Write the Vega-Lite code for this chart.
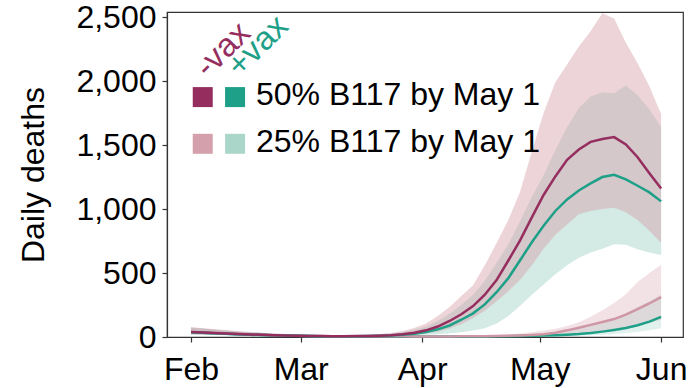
{
  "$schema": "https://vega.github.io/schema/vega-lite/v6.json",
  "width": 516,
  "height": 325,
  "autosize": {"type": "none"},
  "padding": {"left": 167, "top": 12, "right": 11, "bottom": 51},
  "config": {
    "font": "Liberation Sans",
    "view": {"stroke": "#333333", "strokeWidth": 1.2},
    "axis": {"labelFont": "Liberation Sans", "labelFontSize": 32, "labelColor": "#000000", "tickColor": "#333333", "domainColor": "#333333", "tickSize": 5, "tickWidth": 1.2, "domainWidth": 1.2, "grid": false, "titleFont": "Liberation Sans", "titleFontSize": 32, "titleFontWeight": "normal", "titleColor": "#000000"},
    "axisX": {"labelPadding": 12, "labelFlush": false, "labelOverlap": false},
    "axisY": {"labelPadding": 6, "titlePadding": 25}
  },
  "datasets": {"runs": [
    {"date": "2021/02/01", "series": "-vax 50%", "mid": 40, "lo": 22, "hi": 76},
    {"date": "2021/02/04", "series": "-vax 50%", "mid": 36, "lo": 20, "hi": 68},
    {"date": "2021/02/07", "series": "-vax 50%", "mid": 31, "lo": 17, "hi": 60},
    {"date": "2021/02/10", "series": "-vax 50%", "mid": 27, "lo": 15, "hi": 52},
    {"date": "2021/02/13", "series": "-vax 50%", "mid": 23, "lo": 13, "hi": 45},
    {"date": "2021/02/16", "series": "-vax 50%", "mid": 20, "lo": 11, "hi": 39},
    {"date": "2021/02/19", "series": "-vax 50%", "mid": 17, "lo": 9, "hi": 33},
    {"date": "2021/02/22", "series": "-vax 50%", "mid": 14, "lo": 8, "hi": 28},
    {"date": "2021/02/25", "series": "-vax 50%", "mid": 12, "lo": 6, "hi": 23},
    {"date": "2021/02/28", "series": "-vax 50%", "mid": 10, "lo": 5, "hi": 20},
    {"date": "2021/03/03", "series": "-vax 50%", "mid": 8, "lo": 4, "hi": 17},
    {"date": "2021/03/06", "series": "-vax 50%", "mid": 7, "lo": 3, "hi": 15},
    {"date": "2021/03/09", "series": "-vax 50%", "mid": 6, "lo": 3, "hi": 14},
    {"date": "2021/03/12", "series": "-vax 50%", "mid": 6, "lo": 3, "hi": 14},
    {"date": "2021/03/15", "series": "-vax 50%", "mid": 7, "lo": 3, "hi": 15},
    {"date": "2021/03/18", "series": "-vax 50%", "mid": 8, "lo": 4, "hi": 18},
    {"date": "2021/03/21", "series": "-vax 50%", "mid": 10, "lo": 5, "hi": 23},
    {"date": "2021/03/24", "series": "-vax 50%", "mid": 14, "lo": 7, "hi": 32},
    {"date": "2021/03/27", "series": "-vax 50%", "mid": 21, "lo": 11, "hi": 46},
    {"date": "2021/03/30", "series": "-vax 50%", "mid": 33, "lo": 17, "hi": 70},
    {"date": "2021/04/02", "series": "-vax 50%", "mid": 52, "lo": 27, "hi": 105},
    {"date": "2021/04/05", "series": "-vax 50%", "mid": 82, "lo": 42, "hi": 165},
    {"date": "2021/04/08", "series": "-vax 50%", "mid": 125, "lo": 66, "hi": 235},
    {"date": "2021/04/11", "series": "-vax 50%", "mid": 178, "lo": 100, "hi": 320},
    {"date": "2021/04/14", "series": "-vax 50%", "mid": 242, "lo": 148, "hi": 405},
    {"date": "2021/04/17", "series": "-vax 50%", "mid": 330, "lo": 205, "hi": 560},
    {"date": "2021/04/20", "series": "-vax 50%", "mid": 445, "lo": 280, "hi": 735},
    {"date": "2021/04/23", "series": "-vax 50%", "mid": 598, "lo": 358, "hi": 915},
    {"date": "2021/04/26", "series": "-vax 50%", "mid": 755, "lo": 448, "hi": 1135},
    {"date": "2021/04/29", "series": "-vax 50%", "mid": 935, "lo": 560, "hi": 1450},
    {"date": "2021/05/02", "series": "-vax 50%", "mid": 1110, "lo": 690, "hi": 1750},
    {"date": "2021/05/05", "series": "-vax 50%", "mid": 1255, "lo": 800, "hi": 1990},
    {"date": "2021/05/08", "series": "-vax 50%", "mid": 1385, "lo": 880, "hi": 2130},
    {"date": "2021/05/11", "series": "-vax 50%", "mid": 1465, "lo": 960, "hi": 2270},
    {"date": "2021/05/14", "series": "-vax 50%", "mid": 1525, "lo": 985, "hi": 2390},
    {"date": "2021/05/17", "series": "-vax 50%", "mid": 1548, "lo": 1000, "hi": 2530},
    {"date": "2021/05/20", "series": "-vax 50%", "mid": 1562, "lo": 1010, "hi": 2490},
    {"date": "2021/05/23", "series": "-vax 50%", "mid": 1505, "lo": 975, "hi": 2300},
    {"date": "2021/05/26", "series": "-vax 50%", "mid": 1405, "lo": 915, "hi": 2140},
    {"date": "2021/05/29", "series": "-vax 50%", "mid": 1280, "lo": 830, "hi": 1960},
    {"date": "2021/06/01", "series": "-vax 50%", "mid": 1160, "lo": 735, "hi": 1740},

    {"date": "2021/02/01", "series": "+vax 50%", "mid": 38, "lo": 20, "hi": 72},
    {"date": "2021/02/04", "series": "+vax 50%", "mid": 34, "lo": 18, "hi": 64},
    {"date": "2021/02/07", "series": "+vax 50%", "mid": 29, "lo": 15, "hi": 56},
    {"date": "2021/02/10", "series": "+vax 50%", "mid": 25, "lo": 13, "hi": 49},
    {"date": "2021/02/13", "series": "+vax 50%", "mid": 21, "lo": 11, "hi": 42},
    {"date": "2021/02/16", "series": "+vax 50%", "mid": 18, "lo": 9, "hi": 36},
    {"date": "2021/02/19", "series": "+vax 50%", "mid": 15, "lo": 8, "hi": 31},
    {"date": "2021/02/22", "series": "+vax 50%", "mid": 13, "lo": 6, "hi": 26},
    {"date": "2021/02/25", "series": "+vax 50%", "mid": 11, "lo": 5, "hi": 22},
    {"date": "2021/02/28", "series": "+vax 50%", "mid": 9, "lo": 4, "hi": 18},
    {"date": "2021/03/03", "series": "+vax 50%", "mid": 7, "lo": 3, "hi": 15},
    {"date": "2021/03/06", "series": "+vax 50%", "mid": 6, "lo": 3, "hi": 13},
    {"date": "2021/03/09", "series": "+vax 50%", "mid": 5, "lo": 2, "hi": 12},
    {"date": "2021/03/12", "series": "+vax 50%", "mid": 5, "lo": 2, "hi": 12},
    {"date": "2021/03/15", "series": "+vax 50%", "mid": 6, "lo": 2, "hi": 13},
    {"date": "2021/03/18", "series": "+vax 50%", "mid": 7, "lo": 3, "hi": 15},
    {"date": "2021/03/21", "series": "+vax 50%", "mid": 9, "lo": 4, "hi": 19},
    {"date": "2021/03/24", "series": "+vax 50%", "mid": 12, "lo": 5, "hi": 27},
    {"date": "2021/03/27", "series": "+vax 50%", "mid": 17, "lo": 8, "hi": 38},
    {"date": "2021/03/30", "series": "+vax 50%", "mid": 26, "lo": 12, "hi": 56},
    {"date": "2021/04/02", "series": "+vax 50%", "mid": 39, "lo": 17, "hi": 82},
    {"date": "2021/04/05", "series": "+vax 50%", "mid": 60, "lo": 22, "hi": 125},
    {"date": "2021/04/08", "series": "+vax 50%", "mid": 90, "lo": 29, "hi": 182},
    {"date": "2021/04/11", "series": "+vax 50%", "mid": 135, "lo": 38, "hi": 250},
    {"date": "2021/04/14", "series": "+vax 50%", "mid": 185, "lo": 50, "hi": 330},
    {"date": "2021/04/17", "series": "+vax 50%", "mid": 255, "lo": 68, "hi": 440},
    {"date": "2021/04/20", "series": "+vax 50%", "mid": 350, "lo": 105, "hi": 580},
    {"date": "2021/04/23", "series": "+vax 50%", "mid": 460, "lo": 165, "hi": 725},
    {"date": "2021/04/26", "series": "+vax 50%", "mid": 600, "lo": 245, "hi": 905},
    {"date": "2021/04/29", "series": "+vax 50%", "mid": 740, "lo": 330, "hi": 1095},
    {"date": "2021/05/02", "series": "+vax 50%", "mid": 870, "lo": 410, "hi": 1265},
    {"date": "2021/05/05", "series": "+vax 50%", "mid": 985, "lo": 490, "hi": 1460},
    {"date": "2021/05/08", "series": "+vax 50%", "mid": 1075, "lo": 560, "hi": 1640},
    {"date": "2021/05/11", "series": "+vax 50%", "mid": 1145, "lo": 620, "hi": 1790},
    {"date": "2021/05/14", "series": "+vax 50%", "mid": 1200, "lo": 660, "hi": 1880},
    {"date": "2021/05/17", "series": "+vax 50%", "mid": 1250, "lo": 690, "hi": 1910},
    {"date": "2021/05/20", "series": "+vax 50%", "mid": 1268, "lo": 725, "hi": 1905},
    {"date": "2021/05/23", "series": "+vax 50%", "mid": 1232, "lo": 720, "hi": 1965},
    {"date": "2021/05/26", "series": "+vax 50%", "mid": 1182, "lo": 685, "hi": 1890},
    {"date": "2021/05/29", "series": "+vax 50%", "mid": 1130, "lo": 660, "hi": 1780},
    {"date": "2021/06/01", "series": "+vax 50%", "mid": 1060, "lo": 640, "hi": 1640},

    {"date": "2021/02/01", "series": "-vax 25%", "mid": 40, "lo": 22, "hi": 76},
    {"date": "2021/02/04", "series": "-vax 25%", "mid": 36, "lo": 20, "hi": 68},
    {"date": "2021/02/07", "series": "-vax 25%", "mid": 31, "lo": 17, "hi": 60},
    {"date": "2021/02/10", "series": "-vax 25%", "mid": 27, "lo": 15, "hi": 52},
    {"date": "2021/02/13", "series": "-vax 25%", "mid": 23, "lo": 13, "hi": 45},
    {"date": "2021/02/16", "series": "-vax 25%", "mid": 20, "lo": 11, "hi": 39},
    {"date": "2021/02/19", "series": "-vax 25%", "mid": 17, "lo": 9, "hi": 33},
    {"date": "2021/02/22", "series": "-vax 25%", "mid": 14, "lo": 8, "hi": 28},
    {"date": "2021/02/25", "series": "-vax 25%", "mid": 12, "lo": 6, "hi": 23},
    {"date": "2021/02/28", "series": "-vax 25%", "mid": 10, "lo": 5, "hi": 20},
    {"date": "2021/03/03", "series": "-vax 25%", "mid": 8, "lo": 4, "hi": 17},
    {"date": "2021/03/06", "series": "-vax 25%", "mid": 7, "lo": 3, "hi": 15},
    {"date": "2021/03/09", "series": "-vax 25%", "mid": 6, "lo": 3, "hi": 14},
    {"date": "2021/03/12", "series": "-vax 25%", "mid": 6, "lo": 3, "hi": 14},
    {"date": "2021/03/15", "series": "-vax 25%", "mid": 6, "lo": 3, "hi": 14},
    {"date": "2021/03/18", "series": "-vax 25%", "mid": 6, "lo": 3, "hi": 14},
    {"date": "2021/03/21", "series": "-vax 25%", "mid": 6, "lo": 3, "hi": 13},
    {"date": "2021/03/24", "series": "-vax 25%", "mid": 5, "lo": 2, "hi": 12},
    {"date": "2021/03/27", "series": "-vax 25%", "mid": 5, "lo": 2, "hi": 11},
    {"date": "2021/03/30", "series": "-vax 25%", "mid": 4, "lo": 2, "hi": 10},
    {"date": "2021/04/02", "series": "-vax 25%", "mid": 4, "lo": 2, "hi": 10},
    {"date": "2021/04/05", "series": "-vax 25%", "mid": 4, "lo": 2, "hi": 10},
    {"date": "2021/04/08", "series": "-vax 25%", "mid": 4, "lo": 2, "hi": 11},
    {"date": "2021/04/11", "series": "-vax 25%", "mid": 5, "lo": 2, "hi": 12},
    {"date": "2021/04/14", "series": "-vax 25%", "mid": 5, "lo": 2, "hi": 13},
    {"date": "2021/04/17", "series": "-vax 25%", "mid": 6, "lo": 3, "hi": 15},
    {"date": "2021/04/20", "series": "-vax 25%", "mid": 7, "lo": 3, "hi": 18},
    {"date": "2021/04/23", "series": "-vax 25%", "mid": 9, "lo": 4, "hi": 22},
    {"date": "2021/04/26", "series": "-vax 25%", "mid": 12, "lo": 5, "hi": 28},
    {"date": "2021/04/29", "series": "-vax 25%", "mid": 16, "lo": 7, "hi": 37},
    {"date": "2021/05/02", "series": "-vax 25%", "mid": 22, "lo": 9, "hi": 50},
    {"date": "2021/05/05", "series": "-vax 25%", "mid": 34, "lo": 14, "hi": 64},
    {"date": "2021/05/08", "series": "-vax 25%", "mid": 52, "lo": 20, "hi": 85},
    {"date": "2021/05/11", "series": "-vax 25%", "mid": 73, "lo": 28, "hi": 115},
    {"date": "2021/05/14", "series": "-vax 25%", "mid": 95, "lo": 36, "hi": 158},
    {"date": "2021/05/17", "series": "-vax 25%", "mid": 117, "lo": 45, "hi": 210},
    {"date": "2021/05/20", "series": "-vax 25%", "mid": 140, "lo": 56, "hi": 265},
    {"date": "2021/05/23", "series": "-vax 25%", "mid": 175, "lo": 70, "hi": 335},
    {"date": "2021/05/26", "series": "-vax 25%", "mid": 218, "lo": 88, "hi": 430},
    {"date": "2021/05/29", "series": "-vax 25%", "mid": 262, "lo": 110, "hi": 500},
    {"date": "2021/06/01", "series": "-vax 25%", "mid": 312, "lo": 135, "hi": 565},

    {"date": "2021/02/01", "series": "+vax 25%", "mid": 38, "lo": 20, "hi": 72},
    {"date": "2021/02/04", "series": "+vax 25%", "mid": 34, "lo": 18, "hi": 64},
    {"date": "2021/02/07", "series": "+vax 25%", "mid": 29, "lo": 15, "hi": 56},
    {"date": "2021/02/10", "series": "+vax 25%", "mid": 25, "lo": 13, "hi": 49},
    {"date": "2021/02/13", "series": "+vax 25%", "mid": 21, "lo": 11, "hi": 42},
    {"date": "2021/02/16", "series": "+vax 25%", "mid": 18, "lo": 9, "hi": 36},
    {"date": "2021/02/19", "series": "+vax 25%", "mid": 15, "lo": 8, "hi": 31},
    {"date": "2021/02/22", "series": "+vax 25%", "mid": 13, "lo": 6, "hi": 26},
    {"date": "2021/02/25", "series": "+vax 25%", "mid": 11, "lo": 5, "hi": 22},
    {"date": "2021/02/28", "series": "+vax 25%", "mid": 9, "lo": 4, "hi": 18},
    {"date": "2021/03/03", "series": "+vax 25%", "mid": 7, "lo": 3, "hi": 15},
    {"date": "2021/03/06", "series": "+vax 25%", "mid": 6, "lo": 3, "hi": 13},
    {"date": "2021/03/09", "series": "+vax 25%", "mid": 5, "lo": 2, "hi": 12},
    {"date": "2021/03/12", "series": "+vax 25%", "mid": 5, "lo": 2, "hi": 12},
    {"date": "2021/03/15", "series": "+vax 25%", "mid": 5, "lo": 2, "hi": 12},
    {"date": "2021/03/18", "series": "+vax 25%", "mid": 5, "lo": 2, "hi": 12},
    {"date": "2021/03/21", "series": "+vax 25%", "mid": 5, "lo": 2, "hi": 11},
    {"date": "2021/03/24", "series": "+vax 25%", "mid": 4, "lo": 2, "hi": 10},
    {"date": "2021/03/27", "series": "+vax 25%", "mid": 4, "lo": 1, "hi": 9},
    {"date": "2021/03/30", "series": "+vax 25%", "mid": 3, "lo": 1, "hi": 8},
    {"date": "2021/04/02", "series": "+vax 25%", "mid": 3, "lo": 1, "hi": 8},
    {"date": "2021/04/05", "series": "+vax 25%", "mid": 3, "lo": 1, "hi": 8},
    {"date": "2021/04/08", "series": "+vax 25%", "mid": 3, "lo": 1, "hi": 8},
    {"date": "2021/04/11", "series": "+vax 25%", "mid": 3, "lo": 1, "hi": 9},
    {"date": "2021/04/14", "series": "+vax 25%", "mid": 4, "lo": 1, "hi": 10},
    {"date": "2021/04/17", "series": "+vax 25%", "mid": 4, "lo": 2, "hi": 11},
    {"date": "2021/04/20", "series": "+vax 25%", "mid": 5, "lo": 2, "hi": 13},
    {"date": "2021/04/23", "series": "+vax 25%", "mid": 6, "lo": 2, "hi": 15},
    {"date": "2021/04/26", "series": "+vax 25%", "mid": 7, "lo": 3, "hi": 18},
    {"date": "2021/04/29", "series": "+vax 25%", "mid": 9, "lo": 4, "hi": 23},
    {"date": "2021/05/02", "series": "+vax 25%", "mid": 11, "lo": 5, "hi": 29},
    {"date": "2021/05/05", "series": "+vax 25%", "mid": 14, "lo": 6, "hi": 38},
    {"date": "2021/05/08", "series": "+vax 25%", "mid": 18, "lo": 8, "hi": 50},
    {"date": "2021/05/11", "series": "+vax 25%", "mid": 23, "lo": 10, "hi": 66},
    {"date": "2021/05/14", "series": "+vax 25%", "mid": 31, "lo": 13, "hi": 88},
    {"date": "2021/05/17", "series": "+vax 25%", "mid": 42, "lo": 18, "hi": 115},
    {"date": "2021/05/20", "series": "+vax 25%", "mid": 55, "lo": 24, "hi": 145},
    {"date": "2021/05/23", "series": "+vax 25%", "mid": 70, "lo": 31, "hi": 185},
    {"date": "2021/05/26", "series": "+vax 25%", "mid": 92, "lo": 40, "hi": 235},
    {"date": "2021/05/29", "series": "+vax 25%", "mid": 120, "lo": 52, "hi": 280},
    {"date": "2021/06/01", "series": "+vax 25%", "mid": 158, "lo": 68, "hi": 330}
  ]},
  "layer": [
    {
      "data": {"name": "runs"},
      "encoding": {
        "x": {
          "field": "date", "type": "temporal", "title": null,
          "scale": {"domain": [{"year": 2021, "month": 1, "date": 25, "hours": 21}, {"year": 2021, "month": 6, "date": 6, "hours": 14}]},
          "axis": {"format": "%b", "title": null, "values": [{"year": 2021, "month": 2, "date": 1}, {"year": 2021, "month": 3, "date": 1}, {"year": 2021, "month": 4, "date": 1}, {"year": 2021, "month": 5, "date": 1}, {"year": 2021, "month": 6, "date": 1}]}
        }
      },
      "layer": [
        {
          "transform": [{"filter": "datum.series === '+vax 25%'"}],
          "mark": {"type": "area", "color": "#AAD6CA", "opacity": 0.35},
          "encoding": {
            "y": {"field": "lo", "type": "quantitative", "title": "Daily deaths", "scale": {"domain": [0, 2540], "nice": false}, "axis": {"values": [0, 500, 1000, 1500, 2000, 2500], "format": ",d", "title": "Daily deaths"}},
            "y2": {"field": "hi"}
          }
        },
        {
          "transform": [{"filter": "datum.series === '-vax 25%'"}],
          "mark": {"type": "area", "color": "#D4A0AB", "opacity": 0.3},
          "encoding": {"y": {"field": "lo", "type": "quantitative", "title": "Daily deaths"}, "y2": {"field": "hi"}}
        },
        {
          "transform": [{"filter": "datum.series === '+vax 50%'"}],
          "mark": {"type": "area", "color": "#AAD6CA", "opacity": 0.5},
          "encoding": {"y": {"field": "lo", "type": "quantitative", "title": "Daily deaths"}, "y2": {"field": "hi"}}
        },
        {
          "transform": [{"filter": "datum.series === '-vax 50%'"}],
          "mark": {"type": "area", "color": "#D4A0AB", "opacity": 0.45},
          "encoding": {"y": {"field": "lo", "type": "quantitative", "title": "Daily deaths"}, "y2": {"field": "hi"}}
        },
        {
          "transform": [{"filter": "datum.series === '+vax 25%'"}],
          "mark": {"type": "line", "color": "#1EA088", "strokeWidth": 2.5},
          "encoding": {"y": {"field": "mid", "type": "quantitative", "title": "Daily deaths"}}
        },
        {
          "transform": [{"filter": "datum.series === '-vax 25%'"}],
          "mark": {"type": "line", "color": "#CF97A6", "strokeWidth": 2.5},
          "encoding": {"y": {"field": "mid", "type": "quantitative", "title": "Daily deaths"}}
        },
        {
          "transform": [{"filter": "datum.series === '+vax 50%'"}],
          "mark": {"type": "line", "color": "#1EA088", "strokeWidth": 2.5},
          "encoding": {"y": {"field": "mid", "type": "quantitative", "title": "Daily deaths"}}
        },
        {
          "transform": [{"filter": "datum.series === '-vax 50%'"}],
          "mark": {"type": "line", "color": "#952E5F", "strokeWidth": 2.5},
          "encoding": {"y": {"field": "mid", "type": "quantitative", "title": "Daily deaths"}}
        }
      ]
    },
    {
      "data": {"values": [{"label": "-vax 50%"}]},
      "mark": {"type": "square", "size": 400, "filled": true, "opacity": 1, "color": "#952E5F"},
      "encoding": {"x": {"datum": {"year": 2021, "month": 2, "date": 4}, "type": "temporal"}, "y": {"datum": 1875, "type": "quantitative"}}
    },
    {
      "data": {"values": [{"label": "+vax 50%"}]},
      "mark": {"type": "square", "size": 400, "filled": true, "opacity": 1, "color": "#1EA088"},
      "encoding": {"x": {"datum": {"year": 2021, "month": 2, "date": 12, "hours": 6}, "type": "temporal"}, "y": {"datum": 1875, "type": "quantitative"}}
    },
    {
      "data": {"values": [{"label": "-vax 25%"}]},
      "mark": {"type": "square", "size": 400, "filled": true, "opacity": 1, "color": "#D4A0AB"},
      "encoding": {"x": {"datum": {"year": 2021, "month": 2, "date": 4}, "type": "temporal"}, "y": {"datum": 1510, "type": "quantitative"}}
    },
    {
      "data": {"values": [{"label": "+vax 25%"}]},
      "mark": {"type": "square", "size": 400, "filled": true, "opacity": 1, "color": "#AAD6CA"},
      "encoding": {"x": {"datum": {"year": 2021, "month": 2, "date": 12, "hours": 6}, "type": "temporal"}, "y": {"datum": 1510, "type": "quantitative"}}
    },
    {
      "data": {"values": [{"label": "50% B117 by May 1"}]},
      "mark": {"type": "text", "align": "left", "baseline": "alphabetic", "fontSize": 32, "font": "Liberation Sans", "color": "#000000"},
      "encoding": {"text": {"field": "label"}, "x": {"datum": {"year": 2021, "month": 2, "date": 17, "hours": 14}, "type": "temporal"}, "y": {"datum": 1812, "type": "quantitative"}}
    },
    {
      "data": {"values": [{"label": "25% B117 by May 1"}]},
      "mark": {"type": "text", "align": "left", "baseline": "alphabetic", "fontSize": 32, "font": "Liberation Sans", "color": "#000000"},
      "encoding": {"text": {"field": "label"}, "x": {"datum": {"year": 2021, "month": 2, "date": 17, "hours": 14}, "type": "temporal"}, "y": {"datum": 1448, "type": "quantitative"}}
    },
    {
      "data": {"values": [{"label": "-vax"}]},
      "mark": {"type": "text", "align": "left", "baseline": "alphabetic", "angle": -45, "fontSize": 33, "font": "Liberation Sans", "color": "#952E5F"},
      "encoding": {"text": {"field": "label"}, "x": {"datum": {"year": 2021, "month": 2, "date": 5, "hours": 8}, "type": "temporal"}, "y": {"datum": 2016, "type": "quantitative"}}
    },
    {
      "data": {"values": [{"label": "+vax"}]},
      "mark": {"type": "text", "align": "left", "baseline": "alphabetic", "angle": -45, "fontSize": 33, "font": "Liberation Sans", "color": "#1EA088"},
      "encoding": {"text": {"field": "label"}, "x": {"datum": {"year": 2021, "month": 2, "date": 13, "hours": 12}, "type": "temporal"}, "y": {"datum": 2023, "type": "quantitative"}}
    }
  ]
}
